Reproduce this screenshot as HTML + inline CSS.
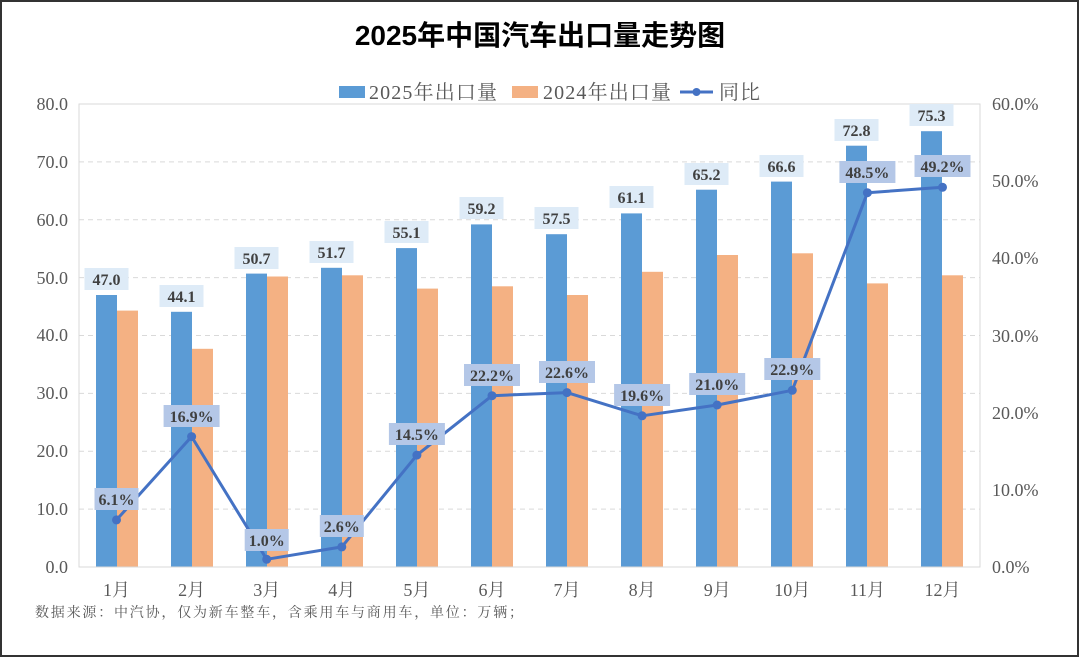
<!DOCTYPE html>
<html><head><meta charset="utf-8"><style>
html,body{margin:0;padding:0;background:#fff}
svg{display:block}
.t{font-family:"Liberation Serif","Noto Serif CJK SC",serif}
</style></head><body>
<svg width="1080" height="658" viewBox="0 0 1080 658" xmlns="http://www.w3.org/2000/svg">
<rect x="0" y="0" width="1080" height="658" fill="#fff"/>
<rect x="1" y="1" width="1077" height="655" fill="none" stroke="#333" stroke-width="2"/>
<text x="540" y="45" text-anchor="middle" font-family="Liberation Sans,'Noto Sans CJK SC',sans-serif" font-size="28" font-weight="bold" fill="#000">2025年中国汽车出口量走势图</text>
<rect x="339" y="86" width="26" height="12" fill="#5b9bd5"/>
<text x="369" y="99" class="t" font-size="20" fill="#595959" textLength="128">2025年出口量</text>
<rect x="512" y="86" width="26" height="12" fill="#f4b183"/>
<text x="543" y="99" class="t" font-size="20" fill="#595959" textLength="128">2024年出口量</text>
<line x1="680" y1="92" x2="713" y2="92" stroke="#4472c4" stroke-width="3"/>
<circle cx="696.5" cy="92" r="4" fill="#4472c4"/>
<text x="719" y="99" class="t" font-size="20" fill="#595959" textLength="41">同比</text>
<g stroke="#d9d9d9" stroke-width="1" stroke-dasharray="5,4">
<line x1="79" x2="980" y1="509.1" y2="509.1"/><line x1="79" x2="980" y1="451.3" y2="451.3"/>
<line x1="79" x2="980" y1="393.4" y2="393.4"/><line x1="79" x2="980" y1="335.5" y2="335.5"/>
<line x1="79" x2="980" y1="277.6" y2="277.6"/><line x1="79" x2="980" y1="219.8" y2="219.8"/>
<line x1="79" x2="980" y1="161.9" y2="161.9"/>
</g>
<rect x="79" y="104" width="901" height="463" fill="none" stroke="#d9d9d9" stroke-width="1"/>
<g class="t" font-size="18" fill="#595959" text-anchor="end">
<text x="68" y="573">0.0</text><text x="68" y="515">10.0</text><text x="68" y="457">20.0</text>
<text x="68" y="399">30.0</text><text x="68" y="341">40.0</text><text x="68" y="284">50.0</text>
<text x="68" y="226">60.0</text><text x="68" y="168">70.0</text><text x="68" y="110">80.0</text>
</g>
<g class="t" font-size="18" fill="#595959">
<text x="992" y="573">0.0%</text><text x="992" y="496">10.0%</text><text x="992" y="419">20.0%</text>
<text x="992" y="342">30.0%</text><text x="992" y="264">40.0%</text><text x="992" y="187">50.0%</text>
<text x="992" y="110">60.0%</text>
</g>
<g fill="#5b9bd5">
<rect x="96" y="295.0" width="21" height="272"/>
<rect x="171" y="311.8" width="21" height="255.2"/>
<rect x="246" y="273.6" width="21" height="293.4"/>
<rect x="321" y="267.8" width="21" height="299.2"/>
<rect x="396" y="248.1" width="21" height="318.9"/>
<rect x="471" y="224.4" width="21" height="342.6"/>
<rect x="546" y="234.2" width="21" height="332.8"/>
<rect x="621" y="213.4" width="21" height="353.6"/>
<rect x="696" y="189.7" width="21" height="377.3"/>
<rect x="771" y="181.6" width="21" height="385.4"/>
<rect x="846" y="145.7" width="21" height="421.3"/>
<rect x="921" y="131.2" width="21" height="435.8"/>
</g>
<g fill="#f4b183">
<rect x="117" y="310.6" width="21" height="256.4"/>
<rect x="192" y="348.8" width="21" height="218.2"/>
<rect x="267" y="276.5" width="21" height="290.5"/>
<rect x="342" y="275.3" width="21" height="291.7"/>
<rect x="417" y="288.6" width="21" height="278.4"/>
<rect x="492" y="286.3" width="21" height="280.7"/>
<rect x="567" y="295.0" width="21" height="272"/>
<rect x="642" y="271.8" width="21" height="295.2"/>
<rect x="717" y="255.0" width="21" height="312"/>
<rect x="792" y="253.3" width="21" height="313.7"/>
<rect x="867" y="283.4" width="21" height="283.6"/>
<rect x="942" y="275.3" width="21" height="291.7"/>
</g>
<line x1="79" y1="567" x2="980" y2="567" stroke="#d9d9d9"/>
<g fill="#deebf7">
<rect x="84.5" y="268" width="44" height="22"/><rect x="159.5" y="285" width="44" height="22"/>
<rect x="234.5" y="247" width="44" height="22"/><rect x="309.5" y="241" width="44" height="22"/>
<rect x="384.5" y="221" width="44" height="22"/><rect x="459.5" y="197" width="44" height="22"/>
<rect x="534.5" y="207" width="44" height="22"/><rect x="609.5" y="186" width="44" height="22"/>
<rect x="684.5" y="163" width="44" height="22"/><rect x="759.5" y="155" width="44" height="22"/>
<rect x="834.5" y="119" width="44" height="22"/><rect x="909.5" y="104" width="44" height="22"/>
</g>
<g class="t" font-size="16" font-weight="bold" fill="#404040" text-anchor="middle">
<text x="106.5" y="285">47.0</text><text x="181.5" y="302">44.1</text>
<text x="256.5" y="264">50.7</text><text x="331.5" y="258">51.7</text>
<text x="406.5" y="238">55.1</text><text x="481.5" y="214">59.2</text>
<text x="556.5" y="224">57.5</text><text x="631.5" y="203">61.1</text>
<text x="706.5" y="180">65.2</text><text x="781.5" y="172">66.6</text>
<text x="856.5" y="136">72.8</text><text x="931.5" y="121">75.3</text>
</g>
<polyline fill="none" stroke="#4472c4" stroke-width="3" stroke-linejoin="round" points="116.5,519.9 191.6,436.6 266.7,559.3 341.8,546.9 416.9,455.1 492,395.7 567,392.6 642.1,415.8 717.2,405 792.3,390.3 867.4,192.7 942.5,187.3"/>
<g fill="#4472c4">
<circle cx="116.5" cy="519.9" r="4.5"/><circle cx="191.6" cy="436.6" r="4.5"/>
<circle cx="266.7" cy="559.3" r="4.5"/><circle cx="341.8" cy="546.9" r="4.5"/>
<circle cx="416.9" cy="455.1" r="4.5"/><circle cx="492" cy="395.7" r="4.5"/>
<circle cx="567" cy="392.6" r="4.5"/><circle cx="642.1" cy="415.8" r="4.5"/>
<circle cx="717.2" cy="405" r="4.5"/><circle cx="792.3" cy="390.3" r="4.5"/>
<circle cx="867.4" cy="192.7" r="4.5"/><circle cx="942.5" cy="187.3" r="4.5"/>
</g>
<g fill="#b4c7e7">
<rect x="94.5" y="488" width="44" height="22"/><rect x="163.6" y="405" width="56" height="22"/>
<rect x="244.7" y="529" width="44" height="22"/><rect x="319.8" y="515" width="44" height="22"/>
<rect x="388.9" y="423" width="56" height="22"/><rect x="464" y="364" width="56" height="22"/>
<rect x="539" y="361" width="56" height="22"/><rect x="614.1" y="384" width="56" height="22"/>
<rect x="689.2" y="373" width="56" height="22"/><rect x="764.3" y="358" width="56" height="22"/>
<rect x="839.4" y="161" width="56" height="22"/><rect x="914.5" y="155" width="56" height="22"/>
</g>
<g class="t" font-size="16" font-weight="bold" fill="#404040" text-anchor="middle">
<text x="116.5" y="505">6.1%</text><text x="191.6" y="422">16.9%</text>
<text x="266.7" y="546">1.0%</text><text x="341.8" y="532">2.6%</text>
<text x="416.9" y="440">14.5%</text><text x="492" y="381">22.2%</text>
<text x="567" y="378">22.6%</text><text x="642.1" y="401">19.6%</text>
<text x="717.2" y="390">21.0%</text><text x="792.3" y="375">22.9%</text>
<text x="867.4" y="178">48.5%</text><text x="942.5" y="172">49.2%</text>
</g>
<g class="t" font-size="18" fill="#595959" text-anchor="middle">
<text x="116.5" y="596">1月</text><text x="191.6" y="596">2月</text><text x="266.7" y="596">3月</text>
<text x="341.8" y="596">4月</text><text x="416.9" y="596">5月</text><text x="492" y="596">6月</text>
<text x="567" y="596">7月</text><text x="642.1" y="596">8月</text><text x="717.2" y="596">9月</text>
<text x="792.3" y="596">10月</text><text x="867.4" y="596">11月</text><text x="942.5" y="596">12月</text>
</g>
<text x="35" y="617" class="t" font-size="14" fill="#595959" textLength="488">数据来源：中汽协，仅为新车整车，含乘用车与商用车，单位：万辆；</text>
</svg>
</body></html>
